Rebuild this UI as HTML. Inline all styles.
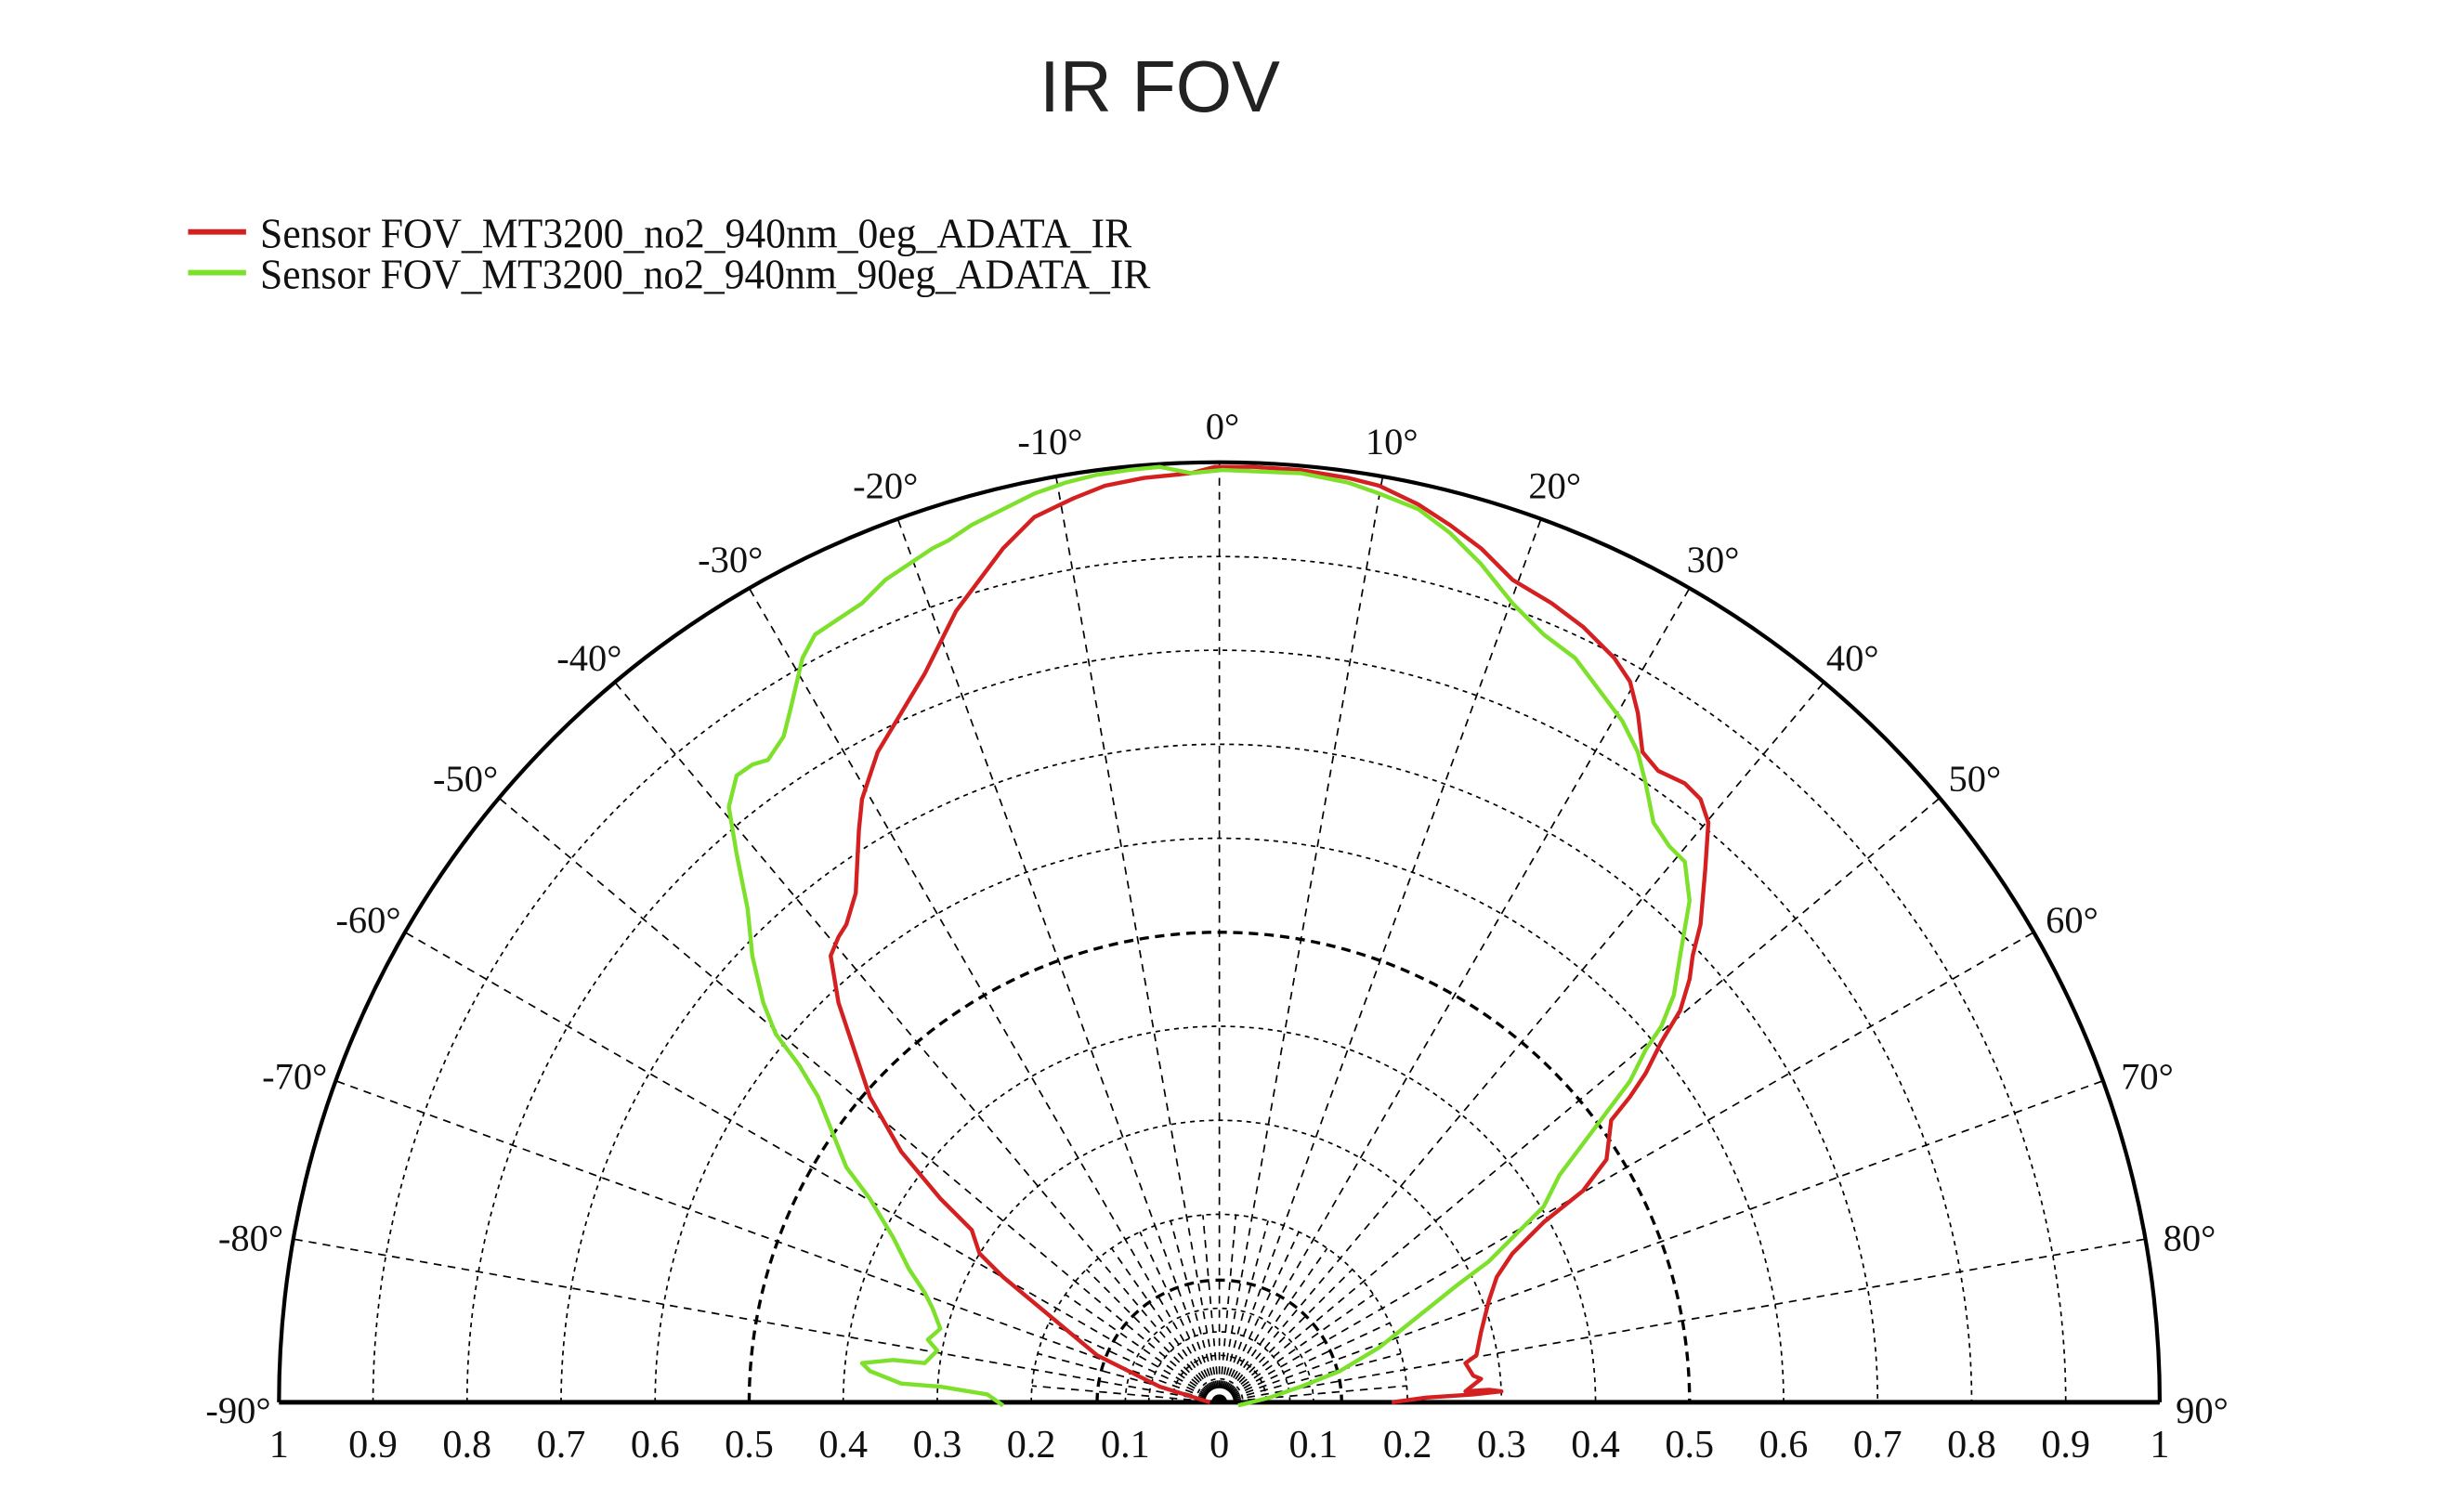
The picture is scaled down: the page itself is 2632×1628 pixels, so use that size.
<!DOCTYPE html>
<html><head><meta charset="utf-8"><style>
html,body{margin:0;padding:0;background:#fff;}
svg{display:block;}
</style></head><body>
<svg width="2632" height="1628" viewBox="0 0 1560 965" preserveAspectRatio="none" xmlns="http://www.w3.org/2000/svg">
<rect width="1560" height="965" fill="#fff"/>
<text x="740" y="71" font-family="Liberation Sans, sans-serif" font-size="46" text-anchor="middle" fill="#222">IR FOV</text>
<line x1="120" y1="148" x2="157" y2="148" stroke="#d42020" stroke-width="3.5"/>
<line x1="120" y1="174" x2="157" y2="174" stroke="#7de02a" stroke-width="3.5"/>
<text x="166" y="158" font-family="Liberation Serif, serif" font-size="27" textLength="556" lengthAdjust="spacingAndGlyphs" fill="#111">Sensor FOV_MT3200_no2_940nm_0eg_ADATA_IR</text>
<text x="166" y="184" font-family="Liberation Serif, serif" font-size="27" textLength="568" lengthAdjust="spacingAndGlyphs" fill="#111">Sensor FOV_MT3200_no2_940nm_90eg_ADATA_IR</text>
<g fill="none" stroke="#000" stroke-width="1" stroke-dasharray="3 3">
<path d="M718,895 A60 60 0 0 1 838,895"/>
<path d="M658,895 A120 120 0 0 1 898,895"/>
<path d="M598,895 A180 180 0 0 1 958,895"/>
<path d="M538,895 A240 240 0 0 1 1018,895"/>
<path d="M418,895 A360 360 0 0 1 1138,895"/>
<path d="M358,895 A420 420 0 0 1 1198,895"/>
<path d="M298,895 A480 480 0 0 1 1258,895"/>
<path d="M238,895 A540 540 0 0 1 1318,895"/>
<path d="M763,895 A15 15 0 0 1 793,895"/>
<path d="M748,895 A30 30 0 0 1 808,895"/>
<path d="M733,895 A45 45 0 0 1 823,895"/>
</g>
<g fill="none" stroke="#000" stroke-width="2" stroke-dasharray="6 4">
<path d="M478,895 A300 300 0 0 1 1078,895"/>
<path d="M700,895 A78 78 0 0 1 856,895"/>
</g>
<g stroke="#000" stroke-width="1" stroke-dasharray="5 4">
<line x1="778" y1="895" x2="778" y2="295"/>
<line x1="778" y1="895" x2="882.2" y2="304.1"/><line x1="778" y1="895" x2="673.8" y2="304.1"/>
<line x1="778" y1="895" x2="983.2" y2="331.2"/><line x1="778" y1="895" x2="572.8" y2="331.2"/>
<line x1="778" y1="895" x2="1078" y2="375.4"/><line x1="778" y1="895" x2="478" y2="375.4"/>
<line x1="778" y1="895" x2="1163.7" y2="435.4"/><line x1="778" y1="895" x2="392.3" y2="435.4"/>
<line x1="778" y1="895" x2="1237.6" y2="509.3"/><line x1="778" y1="895" x2="318.4" y2="509.3"/>
<line x1="778" y1="895" x2="1297.6" y2="595"/><line x1="778" y1="895" x2="258.4" y2="595"/>
<line x1="778" y1="895" x2="1341.8" y2="689.8"/><line x1="778" y1="895" x2="214.2" y2="689.8"/>
<line x1="778" y1="895" x2="1368.9" y2="790.8"/><line x1="778" y1="895" x2="187.1" y2="790.8"/>
<line x1="778" y1="895" x2="788.5" y2="775.5"/><line x1="778" y1="895" x2="767.5" y2="775.5"/>
<line x1="778" y1="895" x2="809.1" y2="779.1"/><line x1="778" y1="895" x2="746.9" y2="779.1"/>
<line x1="778" y1="895" x2="828.7" y2="786.2"/><line x1="778" y1="895" x2="727.3" y2="786.2"/>
<line x1="778" y1="895" x2="846.8" y2="796.7"/><line x1="778" y1="895" x2="709.2" y2="796.7"/>
<line x1="778" y1="895" x2="862.9" y2="810.1"/><line x1="778" y1="895" x2="693.1" y2="810.1"/>
<line x1="778" y1="895" x2="876.3" y2="826.2"/><line x1="778" y1="895" x2="679.7" y2="826.2"/>
<line x1="778" y1="895" x2="886.8" y2="844.3"/><line x1="778" y1="895" x2="669.2" y2="844.3"/>
<line x1="778" y1="895" x2="893.9" y2="863.9"/><line x1="778" y1="895" x2="662.1" y2="863.9"/>
<line x1="778" y1="895" x2="897.5" y2="884.5"/><line x1="778" y1="895" x2="658.5" y2="884.5"/>
</g>
<path d="M178,895 A600 600 0 0 1 1378,895" fill="none" stroke="#000" stroke-width="2.5"/>
<line x1="178" y1="895" x2="1378" y2="895" stroke="#000" stroke-width="3"/>
<polyline fill="none" stroke="#d42020" stroke-width="2.6" stroke-linejoin="round" points="772,895 740,885 700,865 670,840 640,815 625,800 620,785 600,765 575,735 555,700 545,670 535,640 530,610 535,598 540,590 546,570 548,530 550,510 560,480 575,455 590,430 600,410 610,390 625,370 640,350 660,330 685,318 705,310 730,305 760,302 775,298 800,298 830,300 860,305 880,310 905,322 925,335 945,350 965,370 990,385 1010,400 1030,420 1040,435 1045,455 1048,480 1058,492 1075,500 1085,510 1090,525 1088,555 1085,590 1080,610 1078,625 1072,645 1060,665 1050,685 1040,700 1028,715 1025,740 1010,760 985,780 965,800 955,815 950,830 945,850 942,865 935,870 940,878 945,880 935,888 950,887 958,888 940,890 910,892 888,895"/>
<polyline fill="none" stroke="#7de02a" stroke-width="2.6" stroke-linejoin="round" points="640,897 630,890 600,885 575,883 555,875 550,870 570,868 590,870 598,862 592,855 600,848 595,835 590,825 580,810 570,790 555,765 540,745 530,720 522,700 510,680 495,660 487,640 480,610 477,580 470,545 465,515 470,495 480,488 490,485 500,470 505,450 512,420 520,405 535,395 550,385 565,370 580,360 595,350 605,345 620,335 640,325 660,315 680,308 700,303 720,300 740,298 760,302 780,300 830,302 860,308 880,315 905,325 925,340 945,360 965,385 985,405 1005,420 1020,440 1035,460 1045,480 1050,500 1055,525 1065,540 1075,550 1078,575 1072,610 1068,635 1060,655 1050,670 1040,690 1025,710 1010,730 995,750 985,770 970,785 950,805 930,820 905,840 880,860 855,875 830,885 810,892 790,897"/>
<g font-family="Liberation Serif, serif" font-size="25" fill="#111" text-anchor="middle">
<text x="178" y="930">1</text><text x="238" y="930">0.9</text><text x="298" y="930">0.8</text><text x="358" y="930">0.7</text><text x="418" y="930">0.6</text><text x="478" y="930">0.5</text><text x="538" y="930">0.4</text><text x="598" y="930">0.3</text><text x="658" y="930">0.2</text><text x="718" y="930">0.1</text><text x="778" y="930">0</text><text x="838" y="930">0.1</text><text x="898" y="930">0.2</text><text x="958" y="930">0.3</text><text x="1018" y="930">0.4</text><text x="1078" y="930">0.5</text><text x="1138" y="930">0.6</text><text x="1198" y="930">0.7</text><text x="1258" y="930">0.8</text><text x="1318" y="930">0.9</text><text x="1378" y="930">1</text>
</g>
<g font-family="Liberation Serif, serif" font-size="24" fill="#111" text-anchor="middle">
<text x="780" y="280">0°</text>
<text x="888" y="290">10°</text><text x="670" y="290">-10°</text>
<text x="992" y="318">20°</text><text x="565" y="318">-20°</text>
<text x="1093" y="365">30°</text><text x="466" y="365">-30°</text>
<text x="1182" y="428">40°</text><text x="376" y="428">-40°</text>
<text x="1260" y="505">50°</text><text x="297" y="505">-50°</text>
<text x="1322" y="595">60°</text><text x="235" y="595">-60°</text>
<text x="1370" y="695">70°</text><text x="188" y="695">-70°</text>
<text x="1397" y="798">80°</text><text x="160" y="798">-80°</text>
<text x="1405" y="908">90°</text><text x="152" y="908">-90°</text>
</g>
</svg>
</body></html>
